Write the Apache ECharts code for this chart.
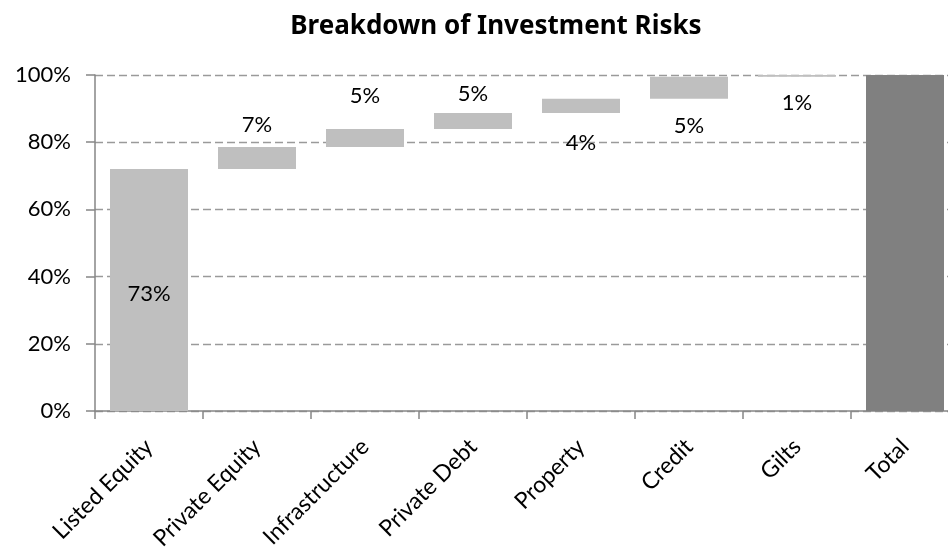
<!DOCTYPE html>
<html>
<head>
<meta charset="utf-8">
<script src="https://cdn.jsdelivr.net/npm/echarts@6/dist/echarts.min.js"></script>
<style>
  html, body { margin: 0; padding: 0; background: #fff; }
  #main { width: 948px; height: 551px; }
</style>
</head>
<body>
<div id="main"></div>
<script>
const categories = ['Listed Equity', 'Private Equity', 'Infrastructure', 'Private Debt',
  'Property', 'Credit', 'Gilts', 'Total'];
// step heights (% of total risk)
const riskSteps = [72, 6.6, 5.3, 4.8, 4.2, 6.6, 0.5];
const totalValue = 100;
const dataLabels = ['73%', '7%', '5%', '5%', '4%', '5%', '1%', ''];
const yTicks = [0, 20, 40, 60, 80, 100];

// where each label sits relative to its bar
const labelPlace = [
  { position: 'inside', offset: [0, 4] },
  { position: 'top', distance: 11 },
  { position: 'top', distance: 22 },
  { position: 'top', distance: 8 },
  { position: 'bottom', distance: 19 },
  { position: 'bottom', distance: 16 },
  { position: 'bottom', distance: 15 },
  null
];

const FONT = 'Lato';

// build invisible base + visible step for waterfall
let running = 0;
const baseData = [];
const stepData = [];
riskSteps.forEach((v, i) => {
  baseData.push(running);
  stepData.push(v);
  running += v;
});
baseData.push(0);
stepData.push(totalValue);

const chart = echarts.init(document.getElementById('main'), null, { renderer: 'canvas' });

chart.setOption({
  animation: false,
  textStyle: { fontFamily: FONT },
  title: {
    text: 'Breakdown of Investment Risks',
    left: 491,
    top: 9,
    textAlign: 'center',
    textStyle: { fontFamily: 'Noto Sans', fontSize: 26, fontWeight: 'bold', color: '#000' }
  },
  grid: { left: 95, top: 75, width: 864, height: 336, outerBoundsMode: 'none', containLabel: false },
  xAxis: {
    type: 'category',
    data: categories,
    axisLine: { lineStyle: { color: '#868686', width: 1.5 } },
    axisTick: { show: true, length: 8, lineStyle: { color: '#868686', width: 1.5 } },
    axisLabel: {
      rotate: 45,
      margin: 32,
      interval: 0,
      color: '#000',
      fontFamily: FONT,
      fontSize: 23
    }
  },
  yAxis: {
    type: 'value',
    min: yTicks[0],
    max: yTicks[yTicks.length - 1],
    interval: 20,
    axisLine: { show: true, lineStyle: { color: '#868686', width: 1.5 } },
    axisTick: { show: true, length: 9, lineStyle: { color: '#868686', width: 1.5 } },
    axisLabel: {
      formatter: '{value}%',
      margin: 24,
      color: '#000',
      fontFamily: FONT,
      fontSize: 22
    },
    splitLine: { lineStyle: { color: '#9a9a9a', type: [8, 4], width: 1.3 } }
  },
  series: [
    {
      type: 'bar',
      stack: 'waterfall',
      silent: true,
      itemStyle: { color: 'transparent' },
      data: baseData,
      barWidth: 78
    },
    {
      type: 'bar',
      stack: 'waterfall',
      barWidth: 78,
      data: stepData.map((v, i) => {
        const place = labelPlace[i];
        return {
          value: v,
          itemStyle: { color: i === stepData.length - 1 ? '#808080' : '#bfbfbf' },
          label: place ? Object.assign({
            show: true,
            formatter: dataLabels[i],
            color: '#000',
            fontFamily: FONT,
            fontSize: 22
          }, place) : { show: false }
        };
      })
    }
  ]
});
</script>
</body>
</html>
